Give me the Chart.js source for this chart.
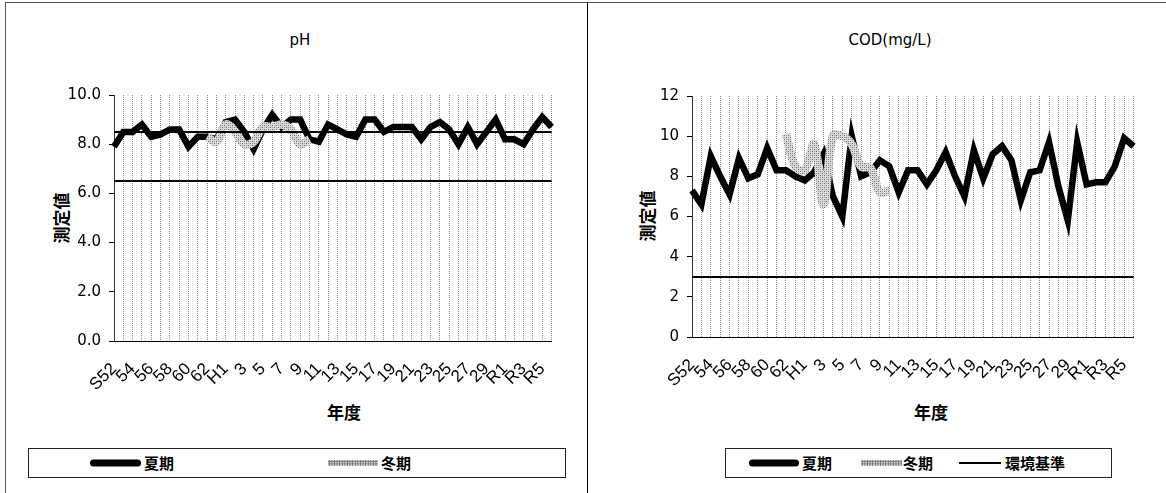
<!DOCTYPE html>
<html>
<head>
<meta charset="utf-8">
<script src="https://cdn.jsdelivr.net/npm/chart.js@4.4.1/dist/chart.umd.min.js"></script>
<style>
  body { margin: 0; width: 1166px; height: 493px; overflow: hidden; background: #fff; position: relative; }
  .frame { position: absolute; background: #555; }
  canvas { position: absolute; }
  .title { position: absolute; font-family: "DejaVu Sans", sans-serif; font-size: 15px; color: #000; transform: translate(-50%, -50%); white-space: nowrap; }
  .jp { position: absolute; font-family: "Noto Sans CJK JP", sans-serif; font-weight: bold; color: #000; white-space: nowrap; }
  .axis-x { font-size: 17px; transform: translate(-50%, -50%); }
  .axis-y { font-size: 17px; transform: translate(-50%, -50%) rotate(-90deg); }
  .legend { position: absolute; border: 1px solid #222; box-sizing: border-box; background: #fff; }
  .legend span { position: absolute; top: 50%; }
  .sw-summer { height: 7px; border-radius: 4px; background: #000; transform: translateY(-50%); }
  .sw-winter { height: 6px; transform: translateY(-50%); background-color: #dcdcdc;
    background-image: radial-gradient(circle, #707070 0.9px, transparent 1.1px); background-size: 2.6px 2.6px; }
  .sw-std { height: 2px; background: #000; transform: translateY(-50%); }
  .lg-text { font-family: "Noto Sans CJK JP", sans-serif; font-weight: bold; font-size: 15px; transform: translateY(-52%); }
</style>
</head>
<body>
<div class="frame" style="left:5px; top:2px; width:1161px; height:1px;"></div>
<div class="frame" style="left:5px; top:2px; width:1px; height:491px;"></div>
<div class="frame" style="left:587px; top:2px; width:1px; height:491px; background:#000;"></div>

<div class="title" style="left:300px; top:40px;">pH</div>
<div class="title" style="left:890px; top:40px;">COD(mg/L)</div>

<div class="jp axis-y" style="left:60px; top:218px;">測定値</div>
<div class="jp axis-y" style="left:646px; top:216px;">測定値</div>
<div class="jp axis-x" style="left:344px; top:411px;">年度</div>
<div class="jp axis-x" style="left:931px; top:411px;">年度</div>

<canvas id="phChart" style="left:6px; top:3px;"></canvas>
<canvas id="codChart" style="left:588px; top:3px;"></canvas>

<div class="legend" style="left:28px; top:448px; width:538px; height:30px;">
  <span class="sw-summer" style="left:61px; width:51px;"></span>
  <span class="lg-text" style="left:115px;">夏期</span>
  <span class="sw-winter" style="left:299px; width:50px;"></span>
  <span class="lg-text" style="left:352px;">冬期</span>
</div>
<div class="legend" style="left:725px; top:448px; width:387px; height:30px;">
  <span class="sw-summer" style="left:23px; width:50px;"></span>
  <span class="lg-text" style="left:76px;">夏期</span>
  <span class="sw-winter" style="left:135px; width:41px;"></span>
  <span class="lg-text" style="left:177px;">冬期</span>
  <span class="sw-std" style="left:233px; width:42px;"></span>
  <span class="lg-text" style="left:279px;">環境基準</span>
</div>

<script>
// 年度 (S52 - R6)
const years = ['S52','53','54','55','56','57','58','59','60','61','62','63',
  'H1','2','3','4','5','6','7','8','9','10','11','12','13','14','15','16','17','18','19','20',
  '21','22','23','24','25','26','27','28','29','30',
  'R1','R2','R3','R4','R5','R6'];

// pH
const phSummer = [7.9, 8.5, 8.5, 8.8, 8.3, 8.4, 8.6, 8.6, 7.9, 8.3, 8.3, 8.2,
  8.9, 9.0, 8.5, 7.8, 8.6, 9.2, 8.7, 9.0, 9.0, 8.2, 8.1, 8.8, 8.6, 8.4, 8.3, 9.0, 9.0, 8.5,
  8.7, 8.7, 8.7, 8.2, 8.7, 8.9, 8.6, 8.0, 8.7, 8.0, 8.5, 9.0,
  8.2, 8.2, 8.0, 8.6, 9.1, 8.7];
const phWinter = [null, null, null, null, null, null, null, null, null, null, 8.3, 8.1,
  8.8, 8.5, 8.0, 8.1, 8.7, 8.7, 8.8, 8.6, 8.0, 8.2, null, null, null, null, null, null, null, null,
  null, null, null, null, null, null, null, null, null, null, null, null,
  null, null, null, null, null, null];
const phStandard = [8.5, 6.5];

// COD (mg/L)
const codSummer = [7.3, 6.6, 9.0, 8.0, 7.1, 8.9, 7.9, 8.1, 9.4, 8.3, 8.3, 8.0,
  7.8, 8.2, 9.1, 7.0, 6.0, 10.0, 8.0, 8.2, 8.8, 8.5, 7.2, 8.3, 8.3, 7.6, 8.3, 9.2, 8.0, 7.0,
  9.3, 7.9, 9.1, 9.5, 8.8, 6.8, 8.2, 8.3, 9.7, 7.5, 5.8, 9.7,
  7.6, 7.7, 7.7, 8.5, 9.9, 9.5];
const codWinter = [null, null, null, null, null, null, null, null, null, null, 10.1, 8.5,
  8.3, 9.6, 6.6, 10.0, 10.0, 9.6, 8.5, 8.4, 7.2, 7.3, null, null, null, null, null, null, null, null,
  null, null, null, null, null, null, null, null, null, null, null, null,
  null, null, null, null, null, null];
const codStandard = [3];

// dotted grey fill used for the 冬期 line
function dotPattern(ctx) {
  const c = document.createElement('canvas');
  c.width = 4; c.height = 4;
  const g = c.getContext('2d');
  g.fillStyle = '#dadada';
  g.fillRect(0, 0, 4, 4);
  g.fillStyle = '#6e6e6e';
  g.fillRect(0, 0, 1, 1);
  g.fillRect(2, 2, 1, 1);
  g.fillStyle = '#a0a0a0';
  g.fillRect(2, 0, 1, 1);
  g.fillRect(0, 2, 1, 1);
  return ctx.createPattern(c, 'repeat');
}

// horizontal 環境基準 lines
const standardLines = {
  id: 'standardLines',
  afterDatasetsDraw(chart, args, opts) {
    const { ctx, chartArea, scales } = chart;
    ctx.save();
    ctx.strokeStyle = '#000';
    ctx.lineWidth = 2;
    (opts.values || []).forEach(v => {
      const py = Math.round(scales.y.getPixelForValue(v));
      ctx.beginPath();
      ctx.moveTo(chartArea.left, py);
      ctx.lineTo(chartArea.right, py);
      ctx.stroke();
    });
    ctx.restore();
  }
};

function makeChart(id, cfg) {
  const canvas = document.getElementById(id);
  canvas.width = cfg.width;
  canvas.height = cfg.height;
  canvas.style.width = cfg.width + 'px';
  canvas.style.height = cfg.height + 'px';
  const ctx = canvas.getContext('2d');

  return new Chart(ctx, {
    type: 'line',
    data: {
      labels: years,
      datasets: [
        {
          label: '夏期',
          data: cfg.summer,
          borderColor: '#000',
          borderWidth: 6.5,
          pointRadius: 0,
          tension: 0,
          order: 1
        },
        {
          label: '冬期',
          data: cfg.winter,
          borderColor: dotPattern(ctx),
          borderWidth: 8.5,
          pointRadius: 0,
          tension: 0.4,
          order: 0
        }
      ]
    },
    plugins: [standardLines],
    options: {
      responsive: false,
      animation: false,
      devicePixelRatio: 1,
      layout: { padding: { top: cfg.padTop, right: cfg.padRight, left: 0, bottom: 0 } },
      plugins: {
        legend: { display: false },
        title: { display: false },
        tooltip: { enabled: false },
        standardLines: { values: cfg.standard }
      },
      scales: {
        x: {
          offset: false,
          afterFit: s => { s.height = 62; },
          grid: { color: '#8a8a8a', lineWidth: 1, drawTicks: false },
          border: { display: true, color: '#000', width: 1, dash: [1, 1] },
          ticks: {
            autoSkip: false,
            minRotation: 45,
            maxRotation: 45,
            padding: 18,
            color: '#000',
            font: { family: 'Liberation Sans', size: 17 },
            callback: (v, i) => (i % 2 === 0 ? years[i] : '')
          }
        },
        y: {
          min: 0,
          max: cfg.yMax,
          afterFit: s => { s.width = cfg.yWidth; },
          grid: { drawOnChartArea: false, drawTicks: true, tickLength: 5, color: '#000' },
          border: { display: true, color: '#333', width: 1 },
          ticks: {
            stepSize: 2,
            padding: 8,
            color: '#000',
            font: { family: 'DejaVu Sans', size: 15 },
            callback: v => v.toFixed(cfg.decimals)
          }
        }
      }
    }
  });
}

makeChart('phChart', {
  width: 578, height: 400, padTop: 92, padRight: 20, yWidth: 108,
  summer: phSummer, winter: phWinter, standard: phStandard, yMax: 10, decimals: 1
});

makeChart('codChart', {
  width: 578, height: 396, padTop: 93, padRight: 20, yWidth: 104,
  summer: codSummer, winter: codWinter, standard: codStandard, yMax: 12, decimals: 0
});
</script>
</body>
</html>
